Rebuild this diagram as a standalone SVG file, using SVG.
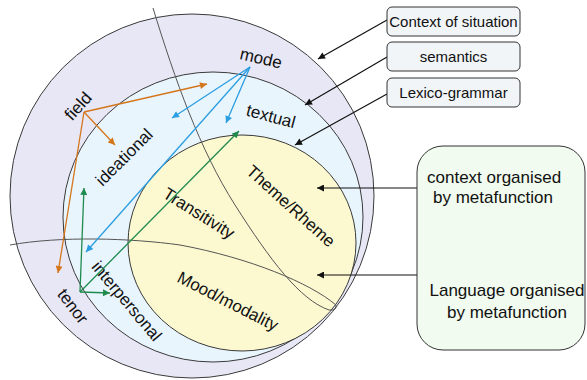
<svg xmlns="http://www.w3.org/2000/svg" width="587" height="380" viewBox="0 0 587 380">
<style>
  .ring{stroke:#3a3a3a;stroke-width:1}
  .lbl{font-family:"Liberation Sans",Arial,sans-serif;font-size:17px;fill:#111;text-anchor:middle}
  .box{fill:#f1f5f8;stroke:#333;stroke-width:1}
  .btxt{font-family:"Liberation Sans",Arial,sans-serif;font-size:15px;fill:#111;text-anchor:middle}
  .gtxt{font-family:"Liberation Sans",Arial,sans-serif;font-size:17px;fill:#111}
  .or{stroke:#d4761c;stroke-width:1.3;fill:none;marker-end:url(#ao)}
  .bl{stroke:#2a9ee2;stroke-width:1.3;fill:none;marker-end:url(#ab)}
  .gr{stroke:#1f8a4e;stroke-width:1.3;fill:none;marker-end:url(#ag)}
  .bk{stroke:#111;stroke-width:1.2;fill:none;marker-end:url(#ak)}
</style>
<defs>
  <marker id="ao" viewBox="0 0 10 10" refX="10" refY="5" markerWidth="8" markerHeight="7" markerUnits="userSpaceOnUse" orient="auto"><path d="M0,0 L10,5 L0,10 z" fill="#d4761c"/></marker>
  <marker id="ab" viewBox="0 0 10 10" refX="10" refY="5" markerWidth="8" markerHeight="7" markerUnits="userSpaceOnUse" orient="auto"><path d="M0,0 L10,5 L0,10 z" fill="#2a9ee2"/></marker>
  <marker id="ag" viewBox="0 0 10 10" refX="10" refY="5" markerWidth="8" markerHeight="7" markerUnits="userSpaceOnUse" orient="auto"><path d="M0,0 L10,5 L0,10 z" fill="#1f8a4e"/></marker>
  <marker id="ak" viewBox="0 0 10 10" refX="10" refY="5" markerWidth="8" markerHeight="7" markerUnits="userSpaceOnUse" orient="auto"><path d="M0,0 L10,5 L0,10 z" fill="#111"/></marker>
</defs>
<rect width="587" height="380" fill="#ffffff"/>

<g id="context-circle"><circle class="ring" cx="192" cy="196" r="182" fill="#e8e7f5"/></g>
<g id="semantics-circle"><ellipse class="ring" cx="213" cy="217" rx="150" ry="145" fill="#e9f5fd"/></g>
<g id="lexicogrammar-circle"><ellipse class="ring" cx="242" cy="243" rx="114" ry="108" fill="#fcf9d0"/></g>

<g id="dividers">
  <path d="M153,8 C175,80 200,150 235,205 S300,300 329,310 Q337,311 336,305 C310,283 250,258 180,245 C130,238 60,236 10,245" fill="none" stroke="#555" stroke-width="1"/>
</g>

<g id="labels">
  <text class="lbl" transform="translate(261,58) rotate(13)" dy="6">mode</text>
  <text class="lbl" transform="translate(271,116) rotate(15)" dy="6">textual</text>
  <text class="lbl" transform="translate(78,106) rotate(-48)" dy="6">field</text>
  <text class="lbl" transform="translate(124,157) rotate(-45)" dy="6">ideational</text>
  <text class="lbl" transform="translate(199,213) rotate(32)" dy="6">Transitivity</text>
  <text class="lbl" transform="translate(291,206) rotate(42)" dy="6">Theme/Rheme</text>
  <text class="lbl" transform="translate(228,301) rotate(27)" dy="6">Mood/modality</text>
  <text class="lbl" transform="translate(127,301) rotate(50)" dy="6">interpersonal</text>
  <text class="lbl" transform="translate(73,306) rotate(53)" dy="6">tenor</text>
</g>

<g id="connectors">
  <line class="or" x1="84" y1="112" x2="207" y2="84"/>
  <line class="or" x1="84" y1="112" x2="115" y2="145"/>
  <line class="or" x1="84" y1="112" x2="58" y2="273"/>
  <line class="bl" x1="250" y1="67" x2="172" y2="118"/>
  <line class="bl" x1="250" y1="67" x2="226" y2="123"/>
  <line class="bl" x1="250" y1="67" x2="86" y2="252"/>
  <line class="gr" x1="80" y1="292" x2="84" y2="188"/>
  <line class="gr" x1="80" y1="292" x2="110" y2="293"/>
  <line class="gr" x1="80" y1="292" x2="239" y2="131"/>
  <line class="bk" x1="387" y1="20" x2="318" y2="59"/>
  <line class="bk" x1="387" y1="57" x2="305" y2="105"/>
  <line class="bk" x1="387" y1="94" x2="295" y2="145"/>
  <line class="bk" x1="417" y1="188" x2="317" y2="188"/>
  <line class="bk" x1="417" y1="275" x2="317" y2="275"/>
</g>

<g id="box-context">
  <rect class="box" x="387" y="7" width="133" height="29" rx="5"/>
  <text class="btxt" x="453.5" y="27">Context of situation</text>
</g>
<g id="box-semantics">
  <rect class="box" x="387" y="42" width="133" height="29" rx="5"/>
  <text class="btxt" x="453.5" y="62">semantics</text>
</g>
<g id="box-lexicogrammar">
  <rect class="box" x="387" y="78" width="133" height="29" rx="5"/>
  <text class="btxt" x="453.5" y="98">Lexico-grammar</text>
</g>
<g id="box-metafunction">
  <rect x="417" y="146" width="168" height="204" rx="26" fill="#f1fbef" stroke="#333" stroke-width="1"/>
  <text class="gtxt" x="427" y="183">context organised</text>
  <text class="gtxt" x="433" y="203">by metafunction</text>
  <text class="gtxt" x="507" y="296" text-anchor="middle">Language organised</text>
  <text class="gtxt" x="507" y="318" text-anchor="middle">by metafunction</text>
</g>
</svg>
